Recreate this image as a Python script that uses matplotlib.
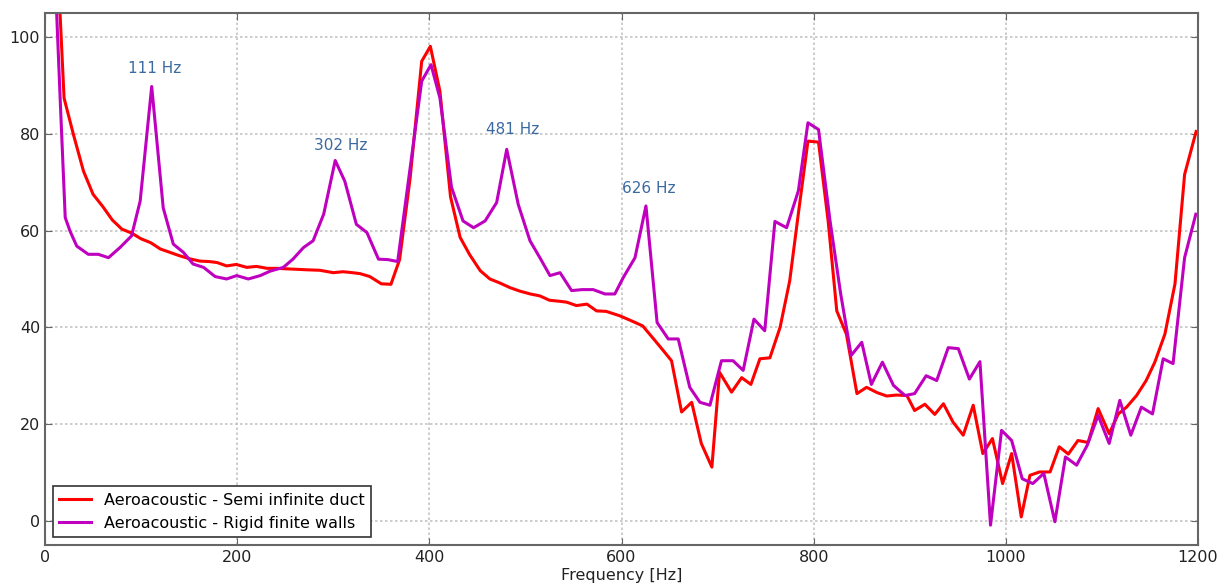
import matplotlib
matplotlib.use('Agg')
import matplotlib.pyplot as plt

# Semi infinite duct (red)
freq_semi = [9.6, 19.8, 29.5, 40, 50, 60, 70, 80, 90, 100, 110, 120, 130, 140, 150, 161, 171, 179,
             189, 199, 210, 220, 231, 241, 251, 262, 272, 286, 300, 310, 320, 328, 338, 350, 360,
             369, 380, 392, 401, 411, 422, 432, 442, 453, 463, 473, 484, 494, 505, 515, 525, 535,
             543, 553, 564, 574, 584, 598, 612, 622, 633, 643, 652, 662.5, 673, 683, 694, 702,
             714.5, 725, 734.6, 744, 754.4, 765, 775, 784, 794, 805, 815, 824, 834, 845, 855, 866,
             876, 886, 897, 905, 915.7, 926, 935, 945, 955.6, 966, 976, 986, 996.6, 1006, 1016,
             1025, 1035, 1046, 1055.5, 1065, 1075, 1085.6, 1096, 1107.5, 1117, 1125.6, 1136, 1146,
             1155, 1165.5, 1176, 1186, 1198]
level_semi = [130, 87.4, 79.9, 72.3, 67.5, 65, 62.2, 60.3, 59.5, 58.3, 57.5, 56.2, 55.5, 54.8, 54.2,
              53.7, 53.6, 53.4, 52.7, 53.0, 52.4, 52.6, 52.2, 52.2, 52.1, 52.0, 51.9, 51.8, 51.3,
              51.5, 51.3, 51.1, 50.5, 49.0, 48.9, 54, 70.9, 95.0, 98.1, 88.8, 67, 58.6, 55, 51.7,
              50.0, 49.2, 48.2, 47.5, 46.9, 46.5, 45.6, 45.4, 45.2, 44.5, 44.8, 43.4, 43.3, 42.4,
              41.2, 40.3, 37.7, 35.3, 33.1, 22.5, 24.5, 16, 11.1, 30.7, 26.6, 29.6, 28.2, 33.5,
              33.7, 40, 49.6, 63.5, 78.5, 78.3, 62, 43.4, 38.6, 26.3, 27.6, 26.5, 25.8, 26.0, 25.9,
              22.8, 24.1, 22, 24.2, 20.4, 17.7, 23.9, 13.9, 17, 7.7, 13.9, 0.8, 9.4, 10.1, 10.1,
              15.3, 13.8, 16.6, 16.2, 23.2, 18, 22.1, 23.5, 25.9, 29, 32.8, 38.6, 49, 71.6, 80.5]

# Rigid finite walls (magenta)
freq_rigid = [10, 16, 21, 26, 33, 45, 55.5, 66, 78, 90, 99, 111, 123, 133.5, 144, 154, 165, 177,
              189, 199.5, 211.5, 224, 234, 248, 258, 269, 279, 290, 302, 312, 324, 335, 347, 357,
              367, 380, 392, 401.7, 411, 423, 435, 446, 458, 470, 480.5, 492.5, 504.7, 515, 525.5,
              536, 548, 559, 570.5, 582.7, 593, 601.8, 614, 625.4, 637, 648.6, 659, 671, 681.6,
              692, 704, 716, 726.6, 737.8, 749, 759.6, 771.8, 784, 794, 805, 817, 828, 839, 850,
              860, 871.5, 883, 895, 905, 917, 928, 940, 950.5, 962, 973, 984, 995.5, 1006, 1017,
              1028, 1039.5, 1051, 1062, 1073.6, 1084.6, 1096, 1107.5, 1118.6, 1130, 1141, 1152.6,
              1163.7, 1174, 1186, 1197.7]
level_rigid = [115, 86, 62.7, 59.9, 56.8, 55.1, 55.1, 54.4, 56.5, 58.9, 66.1, 89.8, 64.7, 57.2,
               55.5, 53.1, 52.4, 50.5, 50.0, 50.7, 50.0, 50.7, 51.6, 52.4, 54.1, 56.5, 57.9, 63.4,
               74.5, 70.2, 61.3, 59.6, 54.1, 54.0, 53.6, 73, 90.9, 94.3, 87.4, 69, 62, 60.6, 62,
               65.8, 76.8, 65.4, 57.9, 54.4, 50.7, 51.3, 47.6, 47.8, 47.8, 46.9, 46.9, 50.3, 54.4,
               65.1, 41.0, 37.6, 37.6, 27.6, 24.5, 23.9, 33.1, 33.1, 31.1, 41.7, 39.3, 61.9, 60.6,
               68.2, 82.3, 80.9, 62, 47, 34.2, 36.9, 28.2, 32.8, 28, 25.9, 26.3, 30, 29, 35.8,
               35.6, 29.3, 32.9, -0.9, 18.7, 16.6, 8.7, 7.7, 9.8, -0.2, 13.2, 11.5, 15.6, 21.8,
               16, 24.9, 17.7, 23.5, 22.1, 33.5, 32.5, 54.4, 63.4]

# Resonance labels
peak_labels = ['111 Hz', '302 Hz', '481 Hz', '626 Hz']
peak_freq = [114.5, 308, 486.5, 628.5]
peak_level = [93.6, 77.5, 80.9, 68.7]

fig = plt.figure(figsize=(12.24, 5.84), dpi=100)
ax = fig.add_axes([0.0368, 0.0668, 0.942, 0.911])

ax.plot(freq_semi, level_semi, color='#ff0000', lw=2.2, label='Aeroacoustic - Semi infinite duct')
ax.plot(freq_rigid, level_rigid, color='#bf00bf', lw=2.2, label='Aeroacoustic - Rigid finite walls')

for lab, f, v in zip(peak_labels, peak_freq, peak_level):
    ax.text(f, v, lab, color='#3b6aa0', fontsize=11, ha='center', va='center')

ax.set_xlim(0, 1200)
ax.set_ylim(-5, 105)
ax.set_xticks(range(0, 1201, 200))
ax.set_yticks(range(0, 101, 20))
ax.grid(True, color='#c4c4c4', linestyle=(0, (1.5, 1.5)), linewidth=1.2)
ax.tick_params(direction='in', top=True, right=True, length=5, labelsize=11.5,
               colors='#666666', labelcolor='#222222')
for sp in ax.spines.values():
    sp.set_color('#666666')
    sp.set_linewidth(1.5)
ax.set_xlabel('Frequency [Hz]', fontsize=11.5, color='#222222', labelpad=2)

leg = ax.legend(loc='lower left', fontsize=11.5, fancybox=False, framealpha=1,
                borderaxespad=0.5, handlelength=2.0)
leg.get_frame().set_edgecolor('#333333')
leg.get_frame().set_linewidth(1.2)

fig.savefig('out.png', dpi=100)
